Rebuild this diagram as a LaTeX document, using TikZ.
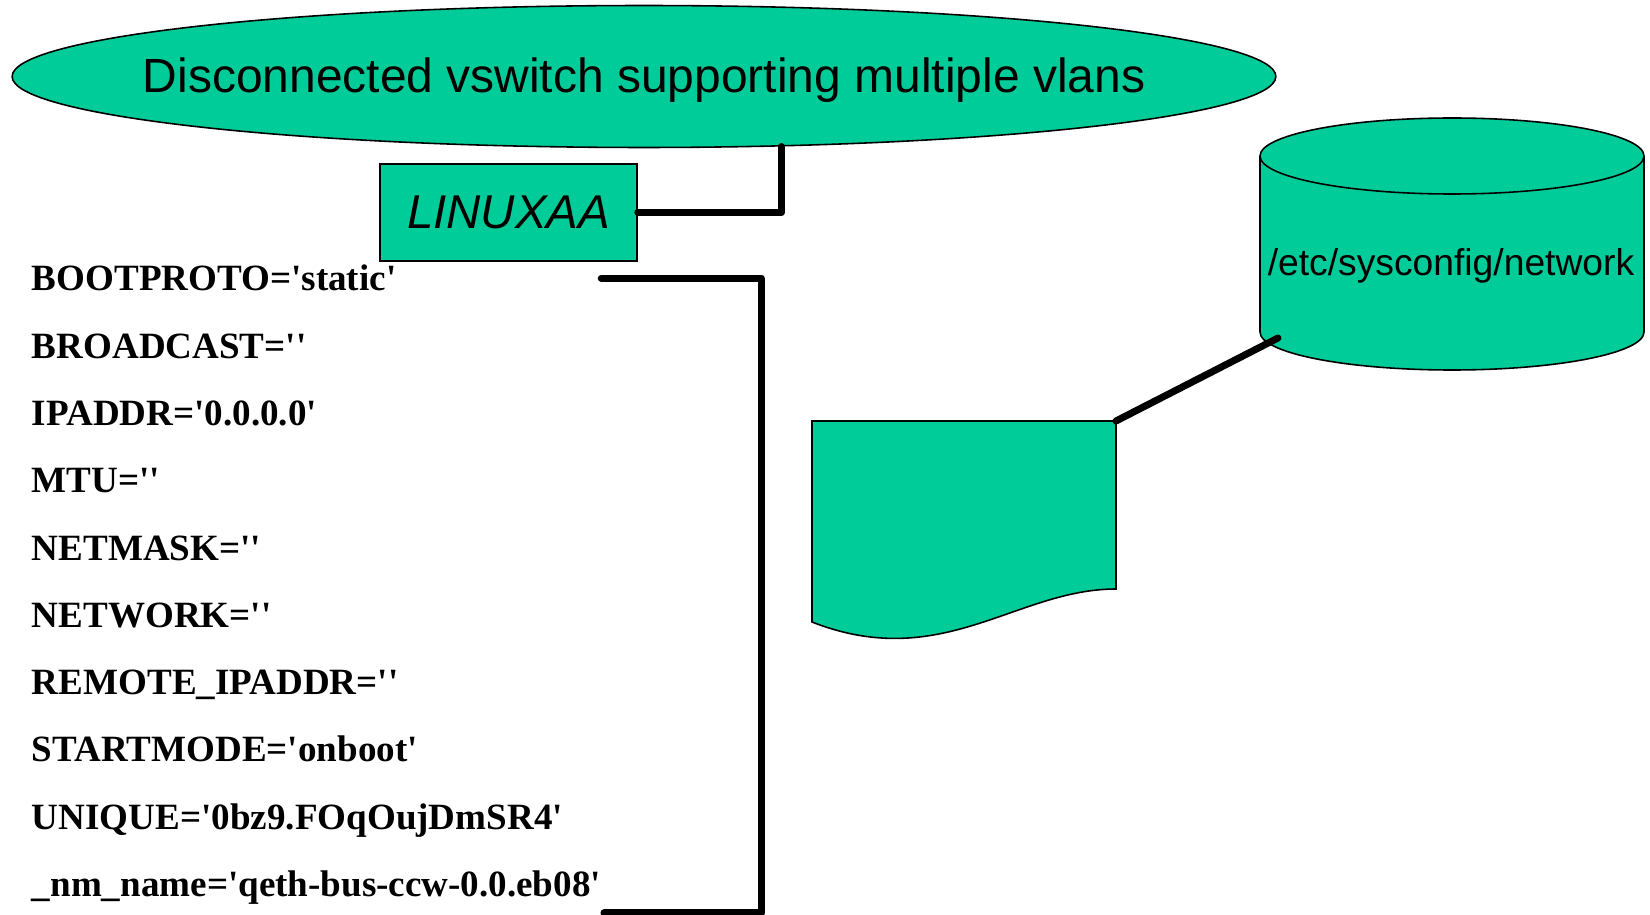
\documentclass[tikz,border=0pt]{standalone}
\usepackage{fontspec}
\setmainfont{Liberation Serif}[Ligatures=TeXOff]
\setsansfont{Liberation Sans}
\usetikzlibrary{shapes.geometric, calc}

\definecolor{netgreen}{RGB}{0,204,153}

\begin{document}
\begin{tikzpicture}[x=0.02cm, y=-0.02cm,
    greenbox/.style={fill=netgreen, draw=black, line width=0.9pt},
    wire/.style={line width=4pt, line cap=round, line join=round},
    cfgline/.style={anchor=base west, inner sep=0pt, font=\fontsize{21.1}{24}\selectfont\bfseries}]
    \useasboundingbox (0,0) rectangle (1650,915);

    % vswitch ellipse with its title
    \node[greenbox, ellipse, inner sep=0pt, minimum width=25.28cm, minimum height=2.84cm] (vswitch) at (644,76.5) {};
    \node[font=\sffamily\fontsize{27.3}{32}\selectfont] (vswitchname) at ($(vswitch)+(0,4)$) {Disconnected vswitch supporting multiple vlans};

    % guest attached to the vswitch
    \node[greenbox, minimum width=5.14cm, minimum height=1.94cm, font=\sffamily\itshape\fontsize{27}{32}\selectfont] (linux) at (508.5,212.5) {LINUXAA};
    \draw[wire] (linux.east) -| (vswitch.-27);

    % ifcfg entries
    \foreach \entry [count=\i from 0] in {BOOTPROTO='static', BROADCAST='', IPADDR='0.0.0.0', MTU='', NETMASK='', NETWORK='', REMOTE\_IPADDR='', STARTMODE='onboot', UNIQUE='0bz9.FOqOujDmSR4', \_nm\_name='qeth-bus-ccw-0.0.eb08'}
        \node[cfgline] (cfg\i) at (31.6,{290.8+67.3*\i}) {\entry};

    % bracket round the entries
    \coordinate (cfgend) at (604,913);
    \draw[wire] (cfg9.east |- cfg0.east) -- ++(160,0) |- (cfgend);

    % config file sheet
    \draw[greenbox] (812,421) -- (1116,421) -- (1116,589) .. controls (1016,589) and (942,673) .. (812,622) -- cycle;
    \coordinate (doc) at (1116,421);

    % network directory as a drum
    \fill[netgreen] (1260,156) -- (1260,332) arc[start angle=180, end angle=0, x radius=192, y radius=38] -- (1644,156) -- cycle;
    \draw[line width=0.9pt] (1260,156) -- (1260,332) arc[start angle=180, end angle=0, x radius=192, y radius=38] -- (1644,156);
    \draw[greenbox] (1452,156) ellipse [x radius=192, y radius=38];
    \node[font=\sffamily\fontsize{21.2}{24}\selectfont, anchor=base] (dbname) at (1451,276) {/etc/sysconfig/network};
    \coordinate (dbport) at (1278,338);

    \draw[wire] (doc) -- (dbport);
\end{tikzpicture}
\end{document}
